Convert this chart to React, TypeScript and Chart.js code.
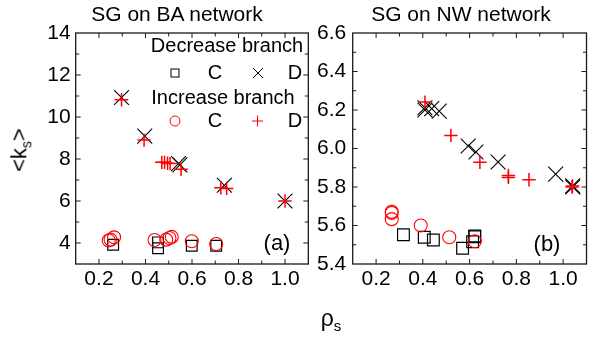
import React, { useEffect, useRef } from 'react';
import { Chart, registerables } from 'chart.js';

Chart.register(...registerables);

// ---- axis ranges & tick labels ----
const X_MIN = 0.1;
const X_MAX = 1.1;
const xTickLabels = [0.2, 0.4, 0.6, 0.8, 1.0];
const BA_Y_MIN = 3;
const BA_Y_MAX = 14;
const baYTickLabels = [4, 6, 8, 10, 12, 14];
const NW_Y_MIN = 5.4;
const NW_Y_MAX = 6.6;
const nwYTickLabels = [5.4, 5.6, 5.8, 6.0, 6.2, 6.4, 6.6];

// ---- (a) SG on BA network ----
const baDecreaseC = [
  { x: 0.261, y: 3.92 }, { x: 0.454, y: 4.03 }, { x: 0.454, y: 3.75 },
  { x: 0.599, y: 3.87 }, { x: 0.704, y: 3.87 },
];
const baDecreaseD = [
  { x: 0.297, y: 10.93 }, { x: 0.397, y: 9.09 }, { x: 0.542, y: 7.78 },
  { x: 0.548, y: 7.72 }, { x: 0.739, y: 6.75 }, { x: 1.0, y: 6.0 },
];
const baIncreaseC = [
  { x: 0.242, y: 4.12 }, { x: 0.25, y: 4.16 }, { x: 0.265, y: 4.27 },
  { x: 0.439, y: 4.14 }, { x: 0.489, y: 4.16 }, { x: 0.503, y: 4.24 },
  { x: 0.513, y: 4.29 }, { x: 0.599, y: 4.08 }, { x: 0.704, y: 3.95 },
];
const baIncreaseD = [
  { x: 0.297, y: 10.82 }, { x: 0.394, y: 8.9 }, { x: 0.47, y: 7.84 },
  { x: 0.482, y: 7.84 }, { x: 0.495, y: 7.8 }, { x: 0.506, y: 7.78 },
  { x: 0.553, y: 7.51 }, { x: 0.724, y: 6.63 }, { x: 0.749, y: 6.6 },
  { x: 1.0, y: 6.0 },
];

// ---- (b) SG on NW network ----
const nwDecreaseC = [
  { x: 0.317, y: 5.552 }, { x: 0.406, y: 5.539 }, { x: 0.445, y: 5.525 },
  { x: 0.57, y: 5.482 }, { x: 0.613, y: 5.516 }, { x: 0.622, y: 5.542 },
  { x: 0.622, y: 5.546 },
];
const nwDecreaseD = [
  { x: 0.409, y: 6.212 }, { x: 0.409, y: 6.2 }, { x: 0.438, y: 6.207 },
  { x: 0.47, y: 6.194 }, { x: 0.594, y: 6.013 }, { x: 0.627, y: 5.982 },
  { x: 0.722, y: 5.93 }, { x: 0.968, y: 5.867 }, { x: 1.041, y: 5.806 },
  { x: 1.041, y: 5.8 },
];
const nwIncreaseC = [
  { x: 0.267, y: 5.671 }, { x: 0.267, y: 5.665 }, { x: 0.267, y: 5.633 },
  { x: 0.391, y: 5.6 }, { x: 0.513, y: 5.539 }, { x: 0.622, y: 5.518 },
];
const nwIncreaseD = [
  { x: 0.409, y: 6.241 }, { x: 0.52, y: 6.068 }, { x: 0.644, y: 5.928 },
  { x: 0.766, y: 5.86 }, { x: 0.766, y: 5.85 }, { x: 0.854, y: 5.838 },
  { x: 1.038, y: 5.8 }, { x: 1.04, y: 5.805 },
];

const FONT = '"Liberation Sans", Arial, sans-serif';
const RED = '#ff0000';
const BLACK = '#000000';

function labelFrom(list: number[], digits: number) {
  return (value: any) => {
    const v = Number(value);
    const t = list.find((u) => Math.abs(u - v) < 1e-6);
    return t === undefined ? '' : t.toFixed(digits);
  };
}

const framePlugin = {
  id: 'frameTicks',
  beforeDatasetsDraw(chart: any) {
    const { ctx, chartArea: a, scales } = chart;
    ctx.save();
    ctx.strokeStyle = '#1a1a1a';
    ctx.lineWidth = 1.3;
    ctx.strokeRect(a.left, a.top, a.right - a.left, a.bottom - a.top);
    ctx.lineWidth = 1;
    ctx.beginPath();
    const xs = scales.x;
    xs.ticks.forEach((t: any) => {
      const p = xs.getPixelForValue(t.value);
      if (p <= a.left + 1 || p >= a.right - 1) return;
      const L = t.label ? 5 : 3.5;
      ctx.moveTo(p, a.bottom); ctx.lineTo(p, a.bottom - L);
      ctx.moveTo(p, a.top); ctx.lineTo(p, a.top + L);
    });
    const ys = scales.y;
    ys.ticks.forEach((t: any) => {
      const p = ys.getPixelForValue(t.value);
      if (p <= a.top + 1 || p >= a.bottom - 1) return;
      const L = t.label ? 5 : 3.5;
      ctx.moveTo(a.left, p); ctx.lineTo(a.left + L, p);
      ctx.moveTo(a.right, p); ctx.lineTo(a.right - L, p);
    });
    ctx.stroke();
    ctx.restore();
  },
};

const legendPlugin = {
  id: 'branchLegend',
  afterDraw(chart: any) {
    const ctx = chart.ctx;
    ctx.save();
    ctx.font = `20px ${FONT}`;
    ctx.fillStyle = BLACK;
    ctx.textBaseline = 'middle';
    ctx.textAlign = 'center';
    ctx.fillText('Decrease branch', 227, 46);
    ctx.fillText('C', 215, 73);
    ctx.fillText('D', 295, 73);
    ctx.fillText('Increase branch', 223, 98);
    ctx.fillText('C', 215, 121);
    ctx.fillText('D', 295, 121);
    // symbols
    ctx.lineWidth = 1;
    ctx.strokeStyle = BLACK;
    ctx.strokeRect(171, 69, 8, 8);
    ctx.beginPath();
    ctx.moveTo(253, 68); ctx.lineTo(263, 78);
    ctx.moveTo(263, 68); ctx.lineTo(253, 78);
    ctx.stroke();
    ctx.strokeStyle = RED;
    ctx.beginPath();
    ctx.arc(175, 121, 5, 0, Math.PI * 2);
    ctx.stroke();
    ctx.beginPath();
    ctx.moveTo(252, 121); ctx.lineTo(263, 121);
    ctx.moveTo(257.5, 115.5); ctx.lineTo(257.5, 126.5);
    ctx.stroke();
    ctx.restore();
  },
};

function makeConfig(opts: {
  decC: any[]; decD: any[]; incC: any[]; incD: any[];
  yMin: number; yMax: number; yStep: number; yLabels: number[]; yDigits: number;
  padLeft: number; padRight: number; yWidth: number; yPad: number; sq: number; extra: any[];
}) {
  const tickFont = { family: FONT, size: 21 };
  return {
    type: 'scatter' as const,
    data: {
      datasets: [
        { data: opts.incD, pointStyle: 'cross', pointRadius: 6.7, borderColor: RED, backgroundColor: 'transparent', borderWidth: 1.5 },
        { data: opts.incC, pointStyle: 'circle', pointRadius: 6.5, borderColor: RED, backgroundColor: 'transparent', borderWidth: 1.1 },
        { data: opts.decD, pointStyle: 'crossRot', pointRadius: 10.5, borderColor: BLACK, backgroundColor: 'transparent', borderWidth: 1.1 },
        { data: opts.decC, pointStyle: 'rect', pointRadius: opts.sq, borderColor: BLACK, backgroundColor: 'transparent', borderWidth: 1.2 },
      ],
    },
    options: {
      animation: false,
      responsive: false,
      maintainAspectRatio: false,
      events: [],
      layout: { padding: { left: opts.padLeft, right: opts.padRight, top: 33, bottom: 0 } },
      plugins: { legend: { display: false }, tooltip: { enabled: false }, title: { display: false } },
      elements: { point: { hoverRadius: 0 } },
      scales: {
        x: {
          type: 'linear', min: X_MIN, max: X_MAX,
          grid: { display: false, drawTicks: false }, border: { display: false },
          ticks: { stepSize: 0.1, autoSkip: false, maxRotation: 0, padding: 3, color: BLACK, font: tickFont, callback: labelFrom(xTickLabels, 1) },
          afterFit: (s: any) => { s.height = 77; },
        },
        y: {
          type: 'linear', min: opts.yMin, max: opts.yMax,
          grid: { display: false, drawTicks: false }, border: { display: false },
          ticks: { stepSize: opts.yStep, autoSkip: false, padding: opts.yPad, color: BLACK, font: tickFont, callback: labelFrom(opts.yLabels, opts.yDigits) },
          afterFit: (s: any) => { s.width = opts.yWidth; },
        },
      },
    },
    plugins: [framePlugin, ...opts.extra],
  };
}

export default function App() {
  const ref1 = useRef<HTMLCanvasElement>(null);
  const ref2 = useRef<HTMLCanvasElement>(null);

  useEffect(() => {
    const c1 = new Chart(ref1.current as HTMLCanvasElement, makeConfig({
      decC: baDecreaseC, decD: baDecreaseD, incC: baIncreaseC, incD: baIncreaseD,
      yMin: BA_Y_MIN, yMax: BA_Y_MAX, yStep: 1, yLabels: baYTickLabels, yDigits: 0,
      padLeft: 0, padRight: 603 - 308.3, yWidth: 75.7, yPad: 5, sq: 7.6, extra: [legendPlugin],
    }) as any);
    const c2 = new Chart(ref2.current as HTMLCanvasElement, makeConfig({
      decC: nwDecreaseC, decD: nwDecreaseD, incC: nwIncreaseC, incD: nwIncreaseD,
      yMin: NW_Y_MIN, yMax: NW_Y_MAX, yStep: 0.1, yLabels: nwYTickLabels, yDigits: 1,
      padLeft: 302.7, padRight: 603 - 586.5, yWidth: 50, yPad: 6.5, sq: 8.3, extra: [],
    }) as any);
    return () => { c1.destroy(); c2.destroy(); };
  }, []);

  const abs: React.CSSProperties = { position: 'absolute', whiteSpace: 'nowrap', color: '#000', fontFamily: FONT, lineHeight: 1 };

  return (
    <div style={{ position: 'absolute', left: 0, top: 0, width: 603, height: 341, background: '#fff', overflow: 'hidden' }}>
      <canvas ref={ref1} width={603} height={341} style={{ position: 'absolute', left: 0, top: 0 }} />
      <canvas ref={ref2} width={603} height={341} style={{ position: 'absolute', left: 0, top: 0 }} />
      <div style={{ ...abs, left: 177, top: 13, fontSize: 21, transform: 'translate(-50%, -50%)' }}>SG on BA network</div>
      <div style={{ ...abs, left: 461, top: 13, fontSize: 21, transform: 'translate(-50%, -50%)' }}>SG on NW network</div>
      <div style={{ ...abs, left: 277, top: 243, fontSize: 22, transform: 'translate(-50%, -50%)' }}>(a)</div>
      <div style={{ ...abs, left: 547, top: 244, fontSize: 22, transform: 'translate(-50%, -50%)' }}>(b)</div>
      <div style={{ ...abs, left: 21, top: 150, fontSize: 22, transform: 'translate(-50%, -50%) rotate(-90deg)' }}>
        &lt;k<sub style={{ fontSize: 14 }}>s</sub>&gt;
      </div>
      <div style={{ ...abs, left: 331, top: 320, fontSize: 23, transform: 'translate(-50%, -50%)' }}>
        ρ<sub style={{ fontSize: 15 }}>s</sub>
      </div>
    </div>
  );
}
